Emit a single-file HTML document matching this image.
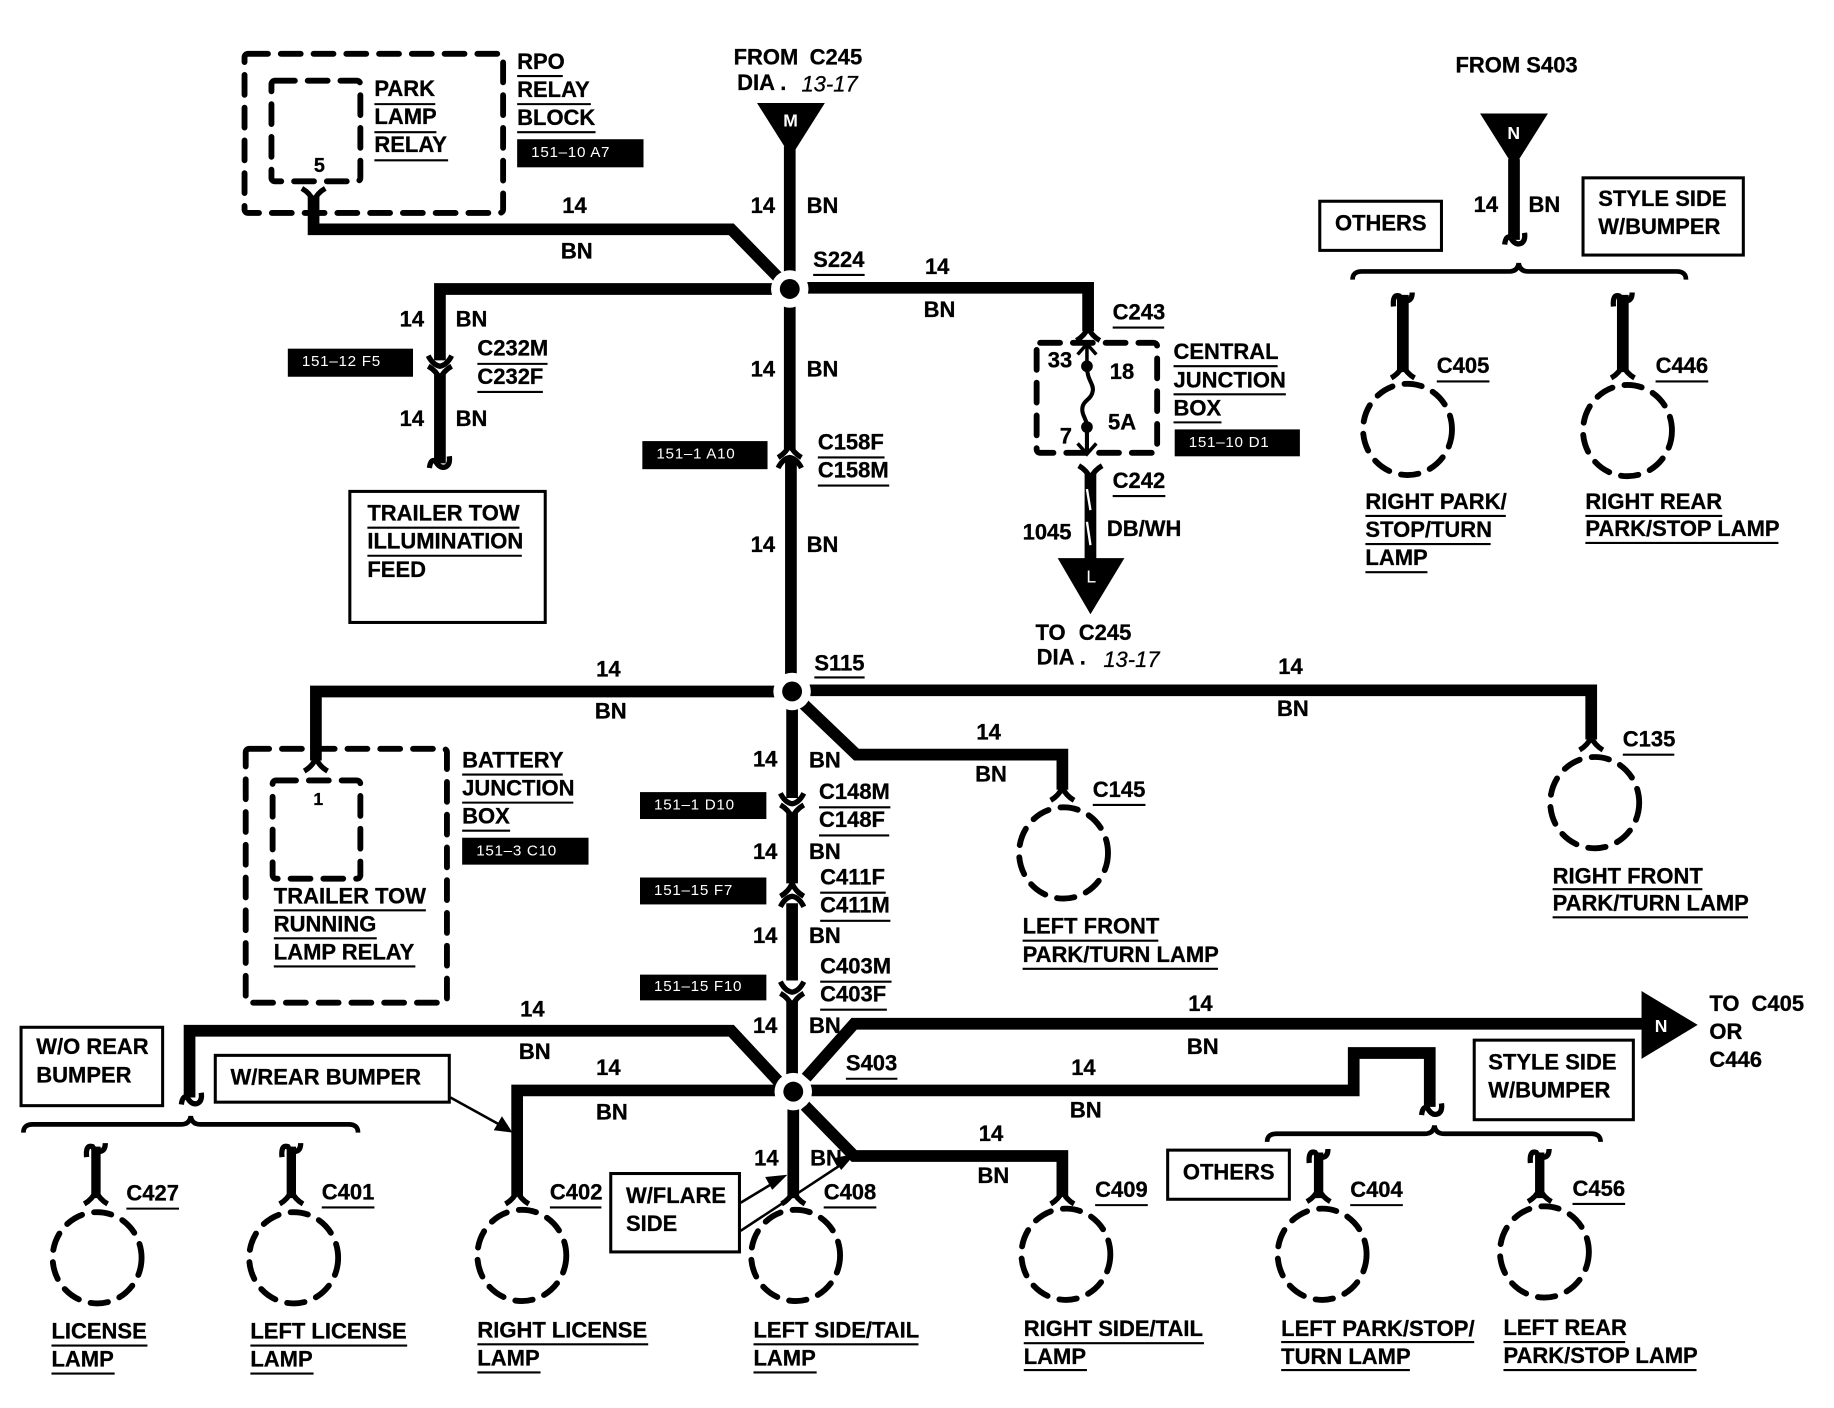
<!DOCTYPE html>
<html><head><meta charset="utf-8"><style>
html,body{margin:0;padding:0;background:#fff}
svg{display:block}
text{font-family:"Liberation Sans",sans-serif;font-weight:bold;font-size:18.8px;fill:#000;stroke:#000;stroke-width:.25}
.w{font-size:13px;fill:#fff;stroke:none;font-weight:normal;letter-spacing:.6px}
.i{font-style:italic;font-weight:normal}
.m{text-anchor:middle}
.wire{fill:none;stroke:#000;stroke-width:10;stroke-linejoin:miter}
.thin{fill:none;stroke:#000;stroke-width:1.8}
.arw{fill:none;stroke:#000;stroke-width:2.2}
.dash{fill:none;stroke:#000;stroke-width:5;stroke-dasharray:17 11;stroke-linecap:round}
.lamp{fill:none;stroke:#000;stroke-width:5;stroke-dasharray:15 10.5;stroke-linecap:round}
.box{fill:#fff;stroke:#000;stroke-width:2.6}
.c{fill:none;stroke:#000;stroke-width:4.5}
</style></head><body>
<svg xmlns="http://www.w3.org/2000/svg" width="1834" height="1408" viewBox="0 0 1567.5 1203.4">
<rect width="1568" height="1204" fill="#fff"/>
<defs>
<path id="fa" class="c" d="M-10,7 Q-3,3 0,-4 Q3,3 10,7"/>
<path id="fy" class="c" d="M-10,-7 Q-3,-3 0,4 Q3,-3 10,-7"/>
<path id="cv" class="c" d="M-10,-5 Q-6,3 0,4 Q6,3 10,-5"/>
<path id="cn" class="c" d="M-10,5 Q-6,-3 0,-4 Q6,-3 10,5"/>
<path id="hk" class="c" d="M-9,4 Q-8,-4 -4,-2 Q0,5 5,3 Q9,1 8,-6"/>
<path id="hu" class="c" d="M-8,7 Q-9,-4 -3,-2 Q0,3 4,2 Q8,1 8,-5"/>
</defs>

<!-- wires -->
<path class="wire" d="M675,125V236"/>
<path class="wire" d="M268,168V196H625L666,238"/>
<path class="wire" d="M660,247H376V308"/>
<path class="wire" d="M690,246H930V283"/>
<path class="wire" d="M675,262V384"/>
<path class="wire" d="M676,393V578"/>
<path class="wire" d="M376,320V396"/>
<path class="wire" d="M662,591H270V650"/>
<path class="wire" d="M692,590H1360V632"/>
<path class="wire" d="M686,601L732,645H908V675"/>
<path class="wire" d="M677,605V682"/>
<path class="wire" d="M677,695V755"/>
<path class="wire" d="M677,772V838"/>
<path class="wire" d="M677,855V918"/>
<path class="wire" d="M666,925L625,881H162V938"/>
<path class="wire" d="M689,921L730,875H1405"/>
<path class="wire" d="M663,932H442V1022"/>
<path class="wire" d="M692,932H1157V900H1222V946"/>
<path class="wire" d="M678,947V1024"/>
<path class="wire" d="M688,945L730,988H908V1022"/>
<path class="wire" d="M1294,136V205"/>
<path class="wire" d="M1199,252V318"/>
<path class="wire" d="M1387,252V318"/>
<path class="wire" d="M82,980V1024" style="stroke-width:8"/>
<path class="wire" d="M249,980V1024" style="stroke-width:8"/>
<path class="wire" d="M1127,985V1024" style="stroke-width:8"/>
<path class="wire" d="M1316,985V1024" style="stroke-width:8"/>
<path class="wire" d="M932,405V480"/>
<path d="M929,418L932,436M929,446L932,466" stroke="#fff" stroke-width="2" fill="none"/>

<!-- splices -->
<circle cx="675" cy="247" r="16" fill="#fff"/><circle cx="675" cy="247" r="8.5"/>
<circle cx="677" cy="591" r="16" fill="#fff"/><circle cx="677" cy="591" r="8.5"/>
<circle cx="678" cy="933" r="16" fill="#fff"/><circle cx="678" cy="933" r="8.5"/>

<!-- triangles -->
<path d="M647,88H705L676,134Z"/><text class="w m" x="676" y="108" style="font-size:15px;font-weight:bold">M</text>
<path d="M1265,97H1323L1294,143Z"/><text class="w m" x="1294" y="119" style="font-size:15px;font-weight:bold">N</text>
<path d="M904,477H961L932,525Z"/><text class="w m" x="933" y="498" style="font-size:15px">L</text>
<path d="M1403,847L1451,876L1403,905Z"/><text class="w m" x="1420" y="882" style="font-size:15px;font-weight:bold">N</text>

<!-- connector glyphs -->
<use href="#fy" x="268" y="168"/>
<use href="#cv" x="376" y="309"/><use href="#fy" x="376" y="320"/><use href="#hk" x="376" y="396"/>
<use href="#fa" x="675" y="384"/><use href="#cn" x="675" y="395"/>
<use href="#fa" x="930" y="284"/>
<use href="#fy" x="932" y="405"/>
<use href="#fa" x="270" y="652"/>
<use href="#fa" x="1360" y="634"/>
<use href="#fa" x="908" y="677"/>
<use href="#cv" x="677" y="683"/><use href="#fy" x="677" y="695"/>
<use href="#fa" x="677" y="759"/><use href="#cn" x="677" y="770"/>
<use href="#cv" x="677" y="844"/><use href="#fy" x="677" y="856"/>
<use href="#hk" x="1295" y="205"/>
<use href="#hk" x="164" y="940"/>
<use href="#hk" x="1224" y="949"/>
<use href="#hu" x="1199" y="255"/><use href="#fa" x="1199" y="316"/>
<use href="#hu" x="1387" y="255"/><use href="#fa" x="1387" y="316"/>
<use href="#hu" x="82" y="982"/><use href="#fa" x="82" y="1022"/>
<use href="#hu" x="249" y="982"/><use href="#fa" x="249" y="1022"/>
<use href="#fa" x="442" y="1022"/>
<use href="#fa" x="678" y="1022"/>
<use href="#fa" x="908" y="1022"/>
<use href="#hu" x="1127" y="987"/><use href="#fa" x="1127" y="1020"/>
<use href="#hu" x="1316" y="987"/><use href="#fa" x="1316" y="1020"/>

<!-- brackets -->
<path fill="none" stroke="#000" stroke-width="4" d="M1156,239Q1156,232 1164,232H1290Q1297,232 1298,225Q1299,232 1306,232H1433Q1441,232 1441,239"/>
<path fill="none" stroke="#000" stroke-width="4" d="M20,968Q20,961 28,961H155Q162,961 163,954Q164,961 171,961H298Q306,961 306,968"/>
<path fill="none" stroke="#000" stroke-width="4" d="M1083,976Q1083,969 1091,969H1218Q1225,969 1226,962Q1227,969 1234,969H1360Q1368,969 1368,976"/>

<!-- dashed boxes -->
<rect class="dash" x="209" y="46" width="221" height="136" rx="3"/>
<rect class="dash" x="232" y="69" width="76" height="86" rx="3"/>
<rect class="dash" x="886" y="293" width="103" height="94" rx="3"/>
<rect class="dash" x="210" y="640" width="172" height="217" rx="3"/>
<rect class="dash" x="233" y="667" width="75" height="84" rx="3"/>

<!-- fuse -->
<path d="M929,293V312" stroke="#000" stroke-width="3" fill="none"/>
<path d="M921,303L929,294L937,303M921,379L929,388L937,379" stroke="#000" stroke-width="3" fill="none"/>
<circle cx="929" cy="313" r="5"/><circle cx="929" cy="365" r="5"/>
<path d="M929,313C929,325 935,328 934,334C933,342 925,342 925,350C925,356 929,358 929,365V387" stroke="#000" stroke-width="3.5" fill="none"/>

<!-- lamps -->
<ellipse class="lamp" cx="1203" cy="367" rx="38" ry="39"/>
<ellipse class="lamp" cx="1391" cy="368" rx="38" ry="39"/>
<ellipse class="lamp" cx="1363" cy="686" rx="38" ry="39"/>
<ellipse class="lamp" cx="909" cy="729" rx="38" ry="39"/>
<ellipse class="lamp" cx="83" cy="1075" rx="38" ry="39"/>
<ellipse class="lamp" cx="251" cy="1075" rx="38" ry="39"/>
<ellipse class="lamp" cx="446" cy="1073" rx="38" ry="39"/>
<ellipse class="lamp" cx="680" cy="1073" rx="38" ry="39"/>
<ellipse class="lamp" cx="911" cy="1072" rx="38" ry="39"/>
<ellipse class="lamp" cx="1130" cy="1072" rx="38" ry="39"/>
<ellipse class="lamp" cx="1320" cy="1070" rx="38" ry="39"/>

<!-- boxes -->
<rect class="box" x="299" y="420" width="167" height="112"/>
<rect class="box" x="1128" y="172" width="104" height="42"/>
<rect class="box" x="1353" y="152" width="137" height="66"/>
<rect class="box" x="1260" y="889" width="136" height="68"/>
<rect class="box" x="184" y="902" width="200" height="40"/>
<rect class="box" x="18" y="878" width="121" height="67"/>
<rect class="box" x="522" y="1003" width="110" height="67"/>
<rect class="box" x="998" y="983" width="104" height="42"/>

<!-- arrows -->
<path class="arw" d="M385,938L432,964"/><path d="M438,968L422,966L429,954Z"/>
<path class="arw" d="M633,1028L666,1008"/><path d="M673,1004L660,1017L654,1006Z"/>
<path class="arw" d="M633,1052L724,992"/><path d="M731,986L719,1000L712,990Z"/>

<!-- black ref boxes -->
<rect x="442" y="119" width="108" height="24"/>
<rect x="246" y="298" width="107" height="24"/>
<rect x="549" y="377" width="107" height="24"/>
<rect x="1004" y="367" width="107" height="23"/>
<rect x="395" y="716" width="108" height="23"/>
<rect x="547" y="677" width="108" height="23"/>
<rect x="547" y="750" width="108" height="23"/>
<rect x="547" y="833" width="108" height="22"/>

<!-- underlines -->
<path class="thin" d="M442,65H481M442,89H505M442,113H509M320,89H372M320,113H373M320,137H383M695,235H739M951,280H995M408,311H468M408,335H464M314,451H444M314,475H446M699,391H756M699,415H760M1003,313H1092M1003,337H1099M1003,361H1044M951,424H996M696,579H739M934,688H979M1387,645H1431M1327,760H1455M1327,784H1494M874,804H990M874,828H1041M395,662H481M395,686H490M395,710H436M234,778H364M234,802H322M234,826H355M700,690H761M700,714H760M701,763H757M701,787H761M701,839H762M701,863H758M723,922H767M108,1033H153M275,1032H320M470,1032H514M704,1032H749M936,1030H981M1154,1030H1199M1344,1029H1389M1228,326H1273M1415,326H1460M1167,441H1287M1167,465H1274M1167,489H1220M1355,441H1472M1355,464H1520M44,1150H126M44,1174H98M214,1150H348M214,1174H268M408,1149H554M408,1173H462M644,1149H785M644,1173H698M875,1148H1029M875,1171H929M1095,1147H1260M1095,1171H1205M1285,1147H1389M1285,1171H1450"/>

<!-- labels -->
<g transform="translate(0,-1)">
<text class="w" x="454" y="135">151–10 A7</text>
<text class="w" x="258" y="314">151–12 F5</text>
<text class="w" x="561" y="393">151–1 A10</text>
<text class="w" x="1016" y="383">151–10 D1</text>
<text class="w" x="407" y="732">151–3 C10</text>
<text class="w" x="559" y="693">151–1 D10</text>
<text class="w" x="559" y="766">151–15 F7</text>
<text class="w" x="559" y="848">151–15 F10</text>
<text x="442" y="60">RPO</text><text x="442" y="84">RELAY</text><text x="442" y="108">BLOCK</text>
<text x="320" y="83">PARK</text><text x="320" y="107">LAMP</text><text x="320" y="131">RELAY</text>
<text class="m" x="273" y="148" style="font-size:17px">5</text>
<text x="627" y="56">FROM</text><text x="692" y="56">C245</text><text x="630" y="78">DIA .</text><text class="i" x="685" y="79">13-17</text>
<text class="m" x="652" y="183">14</text><text class="m" x="703" y="183">BN</text>
<text class="m" x="491" y="183">14</text><text class="m" x="493" y="222">BN</text>
<text x="695" y="229">S224</text>
<text class="m" x="801" y="235">14</text><text class="m" x="803" y="272">BN</text>
<text x="951" y="274">C243</text>
<text class="m" x="352" y="280">14</text><text class="m" x="403" y="280">BN</text>
<text x="408" y="305">C232M</text><text x="408" y="329">C232F</text>
<text class="m" x="352" y="365">14</text><text class="m" x="403" y="365">BN</text>
<text x="314" y="446">TRAILER TOW</text><text x="314" y="470">ILLUMINATION</text><text x="314" y="494">FEED</text>
<text class="m" x="652" y="323">14</text><text class="m" x="703" y="323">BN</text>
<text x="699" y="385">C158F</text><text x="699" y="409">C158M</text>
<text class="m" x="652" y="473">14</text><text class="m" x="703" y="473">BN</text>
<text class="m" x="906" y="315">33</text><text class="m" x="959" y="325">18</text><text class="m" x="959" y="368">5A</text><text class="m" x="911" y="380">7</text>
<text x="1003" y="308">CENTRAL</text><text x="1003" y="332">JUNCTION</text><text x="1003" y="356">BOX</text>
<text x="951" y="418">C242</text>
<text x="874" y="462">1045</text><text x="946" y="459">DB/WH</text>
<text x="885" y="548">TO</text><text x="922" y="548">C245</text><text x="886" y="569">DIA .</text><text class="i" x="943" y="571">13-17</text>
<text x="696" y="574">S115</text>
<text class="m" x="520" y="579">14</text><text class="m" x="522" y="615">BN</text>
<text class="m" x="1103" y="577">14</text><text class="m" x="1105" y="613">BN</text>
<text class="m" x="845" y="633">14</text><text class="m" x="847" y="669">BN</text>
<text x="934" y="682">C145</text><text x="1387" y="639">C135</text>
<text x="1327" y="756">RIGHT FRONT</text><text x="1327" y="779">PARK/TURN LAMP</text>
<text x="874" y="799">LEFT FRONT</text><text x="874" y="823">PARK/TURN LAMP</text>
<text x="395" y="657">BATTERY</text><text x="395" y="681">JUNCTION</text><text x="395" y="705">BOX</text>
<text class="m" x="272" y="689" style="font-size:15px">1</text>
<text x="234" y="773">TRAILER TOW</text><text x="234" y="797">RUNNING</text><text x="234" y="821">LAMP RELAY</text>
<text class="m" x="654" y="656">14</text><text class="m" x="705" y="657">BN</text>
<text x="700" y="684">C148M</text><text x="700" y="708">C148F</text>
<text class="m" x="654" y="735">14</text><text class="m" x="705" y="735">BN</text>
<text x="701" y="757">C411F</text><text x="701" y="781">C411M</text>
<text class="m" x="654" y="807">14</text><text class="m" x="705" y="807">BN</text>
<text x="701" y="833">C403M</text><text x="701" y="857">C403F</text>
<text class="m" x="654" y="884">14</text><text class="m" x="705" y="884">BN</text>
<text class="m" x="455" y="870">14</text><text class="m" x="457" y="906">BN</text>
<text class="m" x="1026" y="865">14</text><text class="m" x="1028" y="902">BN</text>
<text x="1461" y="865">TO</text><text x="1497" y="865">C405</text><text x="1461" y="889">OR</text><text x="1461" y="913">C446</text>
<text x="723" y="916">S403</text>
<text class="m" x="926" y="920">14</text><text class="m" x="928" y="956">BN</text>
<text x="1272" y="915">STYLE SIDE</text><text x="1272" y="939">W/BUMPER</text>
<text class="m" x="520" y="920">14</text><text class="m" x="523" y="958">BN</text>
<text x="197" y="928">W/REAR BUMPER</text>
<text x="31" y="902">W/O REAR</text><text x="31" y="926">BUMPER</text>
<text x="108" y="1027">C427</text><text x="275" y="1026">C401</text><text x="470" y="1026">C402</text>
<text x="535" y="1029">W/FLARE</text><text x="535" y="1053">SIDE</text>
<text x="704" y="1026">C408</text>
<text class="m" x="655" y="997">14</text><text class="m" x="706" y="997">BN</text>
<text class="m" x="847" y="976">14</text><text class="m" x="849" y="1012">BN</text>
<text x="936" y="1024">C409</text>
<text x="1011" y="1009">OTHERS</text>
<text x="1154" y="1024">C404</text><text x="1344" y="1023">C456</text>
<text x="44" y="1145">LICENSE</text><text x="44" y="1169">LAMP</text>
<text x="214" y="1145">LEFT LICENSE</text><text x="214" y="1169">LAMP</text>
<text x="408" y="1144">RIGHT LICENSE</text><text x="408" y="1168">LAMP</text>
<text x="644" y="1144">LEFT SIDE/TAIL</text><text x="644" y="1168">LAMP</text>
<text x="875" y="1143">RIGHT SIDE/TAIL</text><text x="875" y="1167">LAMP</text>
<text x="1095" y="1143">LEFT PARK/STOP/</text><text x="1095" y="1167">TURN LAMP</text>
<text x="1285" y="1142">LEFT REAR</text><text x="1285" y="1166">PARK/STOP LAMP</text>
<text x="1244" y="63">FROM S403</text>
<text class="m" x="1270" y="182">14</text><text class="m" x="1320" y="182">BN</text>
<text x="1141" y="198">OTHERS</text>
<text x="1366" y="177">STYLE SIDE</text><text x="1366" y="201">W/BUMPER</text>
<text x="1228" y="320">C405</text><text x="1415" y="320">C446</text>
<text x="1167" y="436">RIGHT PARK/</text><text x="1167" y="460">STOP/TURN</text><text x="1167" y="484">LAMP</text>
<text x="1355" y="436">RIGHT REAR</text><text x="1355" y="459">PARK/STOP LAMP</text>
</g>
</svg>
</body></html>
